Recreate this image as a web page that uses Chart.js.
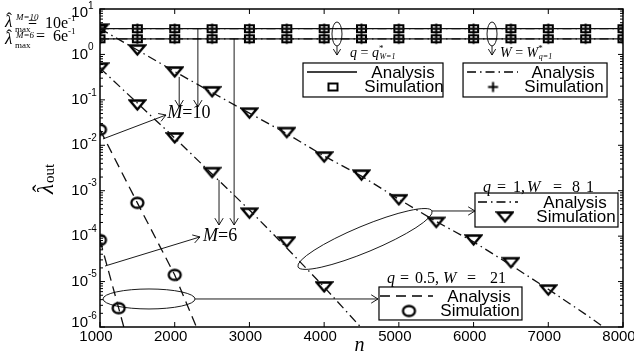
<!DOCTYPE html>
<html>
<head>
<meta charset="utf-8">
<script src="https://cdn.jsdelivr.net/npm/chart.js@4"></script>
<style>
  html, body { margin: 0; padding: 0; background: #fff; }
</style>
</head>
<body>
<canvas id="myChart" width="634" height="358"></canvas>
<script>
// n on the x axis, lambda_out on the (log) y axis
const nSim = [1000, 1500, 2000, 2500, 3000, 3500, 4000, 4500, 5000, 5500, 6000, 6500, 7000, 7500, 8000];
const maxM10Sim = [3.68, 3.68, 3.68, 3.68, 3.68, 3.68, 3.68, 3.68, 3.68, 3.68, 3.68, 3.68, 3.68, 3.68, 3.68];
const maxM6Sim = [2.21, 2.21, 2.21, 2.21, 2.21, 2.21, 2.21, 2.21, 2.21, 2.21, 2.21, 2.21, 2.21, 2.21, 2.21];
const nEnds = [1000, 8000];
const maxM10Ana = [3.68, 3.68];
const maxM6Ana = [2.21, 2.21];

// q = 1, W = 81
const nTriM10 = [1000, 1500, 2000, 2500, 3000, 3500, 4000, 4500, 5000, 5500, 6000, 6500, 7000];
const triSimM10 = [3.6, 1.25, 0.41, 0.15, 0.051, 0.019, 0.0055, 0.0022, 6.3e-4, 2.0e-4, 8.2e-5, 2.6e-5, 6.5e-6];
const nTriAnaM10 = [1000, 1500, 2000, 2500, 3000, 3500, 4000, 4500, 5000, 5500, 6000, 6500, 7000, 7500, 8000];
const triAnaM10 = [3.68, 1.25, 0.42, 0.145, 0.051, 0.018, 0.0058, 0.0021, 6.5e-4, 2.1e-4, 7.5e-5, 2.3e-5, 6.8e-6, 1.9e-6, 5e-7];
const nTriM6 = [1000, 1500, 2000, 2500, 3000, 3500, 4000];
const triSimM6 = [0.50, 0.077, 0.0145, 0.0025, 3.2e-4, 7.4e-5, 7.6e-6];
const nTriAnaM6 = [1000, 1500, 2000, 2500, 3000, 3500, 4000, 4500];
const triAnaM6 = [0.50, 0.085, 0.0145, 0.00233, 3.77e-4, 5.5e-5, 7.6e-6, 9.5e-7];

// q = 0.5, W = 21
const nCircM10 = [1000, 1500, 2000];
const circSimM10 = [0.022, 5.4e-4, 1.4e-5];
const nCircAnaM10 = [1000, 1500, 2000, 2500];
const circAnaM10 = [0.022, 5.4e-4, 1.4e-5, 1.5e-7];
const nCircM6 = [1000, 1250];
const circSimM6 = [8.2e-5, 2.6e-6];
const nCircAnaM6 = [1000, 1250, 1500];
const circAnaM6 = [8.2e-5, 2.6e-6, 8e-8];

const xTicks = [1000, 2000, 3000, 4000, 5000, 6000, 7000, 8000];
const yExponents = [-6, -5, -4, -3, -2, -1, 0, 1];

const serif = '"Liberation Serif", "Times New Roman", serif';
const sans = '"Liberation Sans", Arial, sans-serif';
const DASHDOT = [9, 4, 1.5, 4];
const DASHED = [10, 6];

function makeMarker(w, h, draw) {
    const c = document.createElement('canvas');
    c.width = w; c.height = h;
    const g = c.getContext('2d');
    g.strokeStyle = '#000';
    draw(g);
    return c;
}
const triMark = makeMarker(19, 14, g => {
    g.lineWidth = 2.4;
    g.beginPath(); g.moveTo(2, 2.5); g.lineTo(17, 2.5); g.lineTo(9.5, 11.5); g.closePath(); g.stroke();
});
const circMark = makeMarker(17, 15, g => {
    g.lineWidth = 2.3;
    g.beginPath(); g.ellipse(8.5, 7.5, 6, 5, 0, 0, Math.PI * 2); g.stroke();
});
const sqMark = makeMarker(13, 11, g => {
    g.lineWidth = 2;
    g.strokeRect(2, 2, 9, 7);
});
const plusMark = makeMarker(13, 13, g => {
    g.lineWidth = 2;
    g.beginPath(); g.moveTo(6.5, 1.5); g.lineTo(6.5, 11.5); g.moveTo(1.5, 6.5); g.lineTo(11.5, 6.5); g.stroke();
});

const pts = (xs, ys) => xs.map((x, i) => ({ x: x, y: ys[i] }));
const lineSet = (xs, ys, dash) => ({
    data: pts(xs, ys), borderColor: '#111', borderWidth: 1.3, borderDash: dash,
    pointRadius: 0, pointHoverRadius: 0, fill: false, tension: 0, clip: 0
});
const simSet = (xs, ys, mark) => ({
    data: pts(xs, ys), showLine: false, pointStyle: mark, pointRadius: 6,
    pointHoverRadius: 6, borderColor: '#000', backgroundColor: 'transparent'
});

function arrow(ctx, p1, p2, head) {
    head = head || 8;
    const a = Math.atan2(p2[1] - p1[1], p2[0] - p1[0]);
    ctx.beginPath();
    ctx.moveTo(p1[0], p1[1]); ctx.lineTo(p2[0], p2[1]);
    ctx.moveTo(p2[0] - head * Math.cos(a - 0.55), p2[1] - head * Math.sin(a - 0.55));
    ctx.lineTo(p2[0], p2[1]);
    ctx.lineTo(p2[0] - head * Math.cos(a + 0.55), p2[1] - head * Math.sin(a + 0.55));
    ctx.stroke();
}

function ellipseBetween(ctx, p1, p2, minor) {
    const cx = (p1[0] + p2[0]) / 2, cy = (p1[1] + p2[1]) / 2;
    const rx = Math.hypot(p2[0] - p1[0], p2[1] - p1[1]) / 2;
    ctx.beginPath();
    ctx.ellipse(cx, cy, rx, minor, Math.atan2(p2[1] - p1[1], p2[0] - p1[0]), 0, Math.PI * 2);
    ctx.stroke();
}

// parts: [text, font, dy, extra gap]
function runs(ctx, x, y, parts, draw) {
    let cx = x;
    parts.forEach(p => {
        ctx.font = p[1];
        if (draw !== false) ctx.fillText(p[0], cx, y + (p[2] || 0));
        cx += ctx.measureText(p[0]).width + (p[3] || 0);
    });
    return cx - x;
}

// pieces placed at fixed offsets: [text, font, dx]
function placed(ctx, x, y, parts) {
    parts.forEach(p => { ctx.font = p[1]; ctx.fillText(p[0], x + p[2], y); });
}

// lambda with a hat, left aligned at x, returns its width
function lamHat(ctx, x, base, size) {
    ctx.font = 'italic ' + size + 'px ' + serif;
    const w = ctx.measureText('λ').width;
    ctx.textAlign = 'left';
    ctx.fillText('λ', x, base);
    ctx.textAlign = 'center';
    ctx.font = size + 'px ' + serif;
    ctx.fillText('ˆ', x + w * 0.55, base - size * 0.18);
    ctx.textAlign = 'left';
    return w;
}

function legendBox(ctx, x, y, w, h, dash, mark, lineL, lineR) {
    ctx.save();
    ctx.fillStyle = '#fff';
    ctx.fillRect(x, y, w, h);
    ctx.strokeStyle = '#000';
    ctx.lineWidth = 1.2;
    ctx.strokeRect(x, y, w, h);
    ctx.lineWidth = 1.3;
    ctx.setLineDash(dash);
    ctx.beginPath(); ctx.moveTo(x + lineL, y + 9); ctx.lineTo(x + lineR, y + 9); ctx.stroke();
    ctx.setLineDash([]);
    ctx.drawImage(mark, x + 30 - mark.width / 2, y + 24 - mark.height / 2);
    ctx.fillStyle = '#000';
    ctx.font = '17px ' + sans;
    ctx.textAlign = 'center';
    ctx.textBaseline = 'middle';
    ctx.fillText('Analysis', x + 100, y + 10);
    ctx.fillText('Simulation', x + 101, y + 24);
    ctx.restore();
}

const decor = {
    id: 'decor',
    afterDatasetsDraw(chart) {
        const ctx = chart.ctx;
        const xs = chart.scales.x, ys = chart.scales.y, a = chart.chartArea;
        const P = (n, v) => [xs.getPixelForValue(n), ys.getPixelForValue(v)];
        ctx.save();
        ctx.strokeStyle = '#000';
        ctx.fillStyle = '#000';

        // frame and ticks
        ctx.lineWidth = 1.5;
        ctx.strokeRect(a.left, a.top, a.right - a.left, a.bottom - a.top);
        ctx.lineWidth = 1;
        ctx.beginPath();
        xTicks.forEach(v => {
            const x = xs.getPixelForValue(v);
            ctx.moveTo(x, a.bottom); ctx.lineTo(x, a.bottom - 5);
            ctx.moveTo(x, a.top); ctx.lineTo(x, a.top + 5);
        });
        yExponents.forEach(e => {
            const y = ys.getPixelForValue(Math.pow(10, e));
            ctx.moveTo(a.left, y); ctx.lineTo(a.left + 5, y);
            ctx.moveTo(a.right, y); ctx.lineTo(a.right - 5, y);
            if (e < 1) {
                for (let k = 2; k <= 9; k++) {
                    const ym = ys.getPixelForValue(k * Math.pow(10, e));
                    ctx.moveTo(a.left, ym); ctx.lineTo(a.left + 3, ym);
                    ctx.moveTo(a.right, ym); ctx.lineTo(a.right - 3, ym);
                }
            }
        });
        ctx.stroke();

        // tick labels
        ctx.font = '15px ' + sans;
        ctx.textAlign = 'center';
        ctx.textBaseline = 'top';
        xTicks.forEach(v => ctx.fillText(String(v), xs.getPixelForValue(v) - 4, a.bottom + 2));
        ctx.textBaseline = 'middle';
        yExponents.forEach(e => {
            let y = ys.getPixelForValue(Math.pow(10, e));
            y = Math.min(Math.max(y, a.top + 4), a.bottom - 4);
            ctx.textAlign = 'right';
            ctx.font = '15px ' + sans;
            ctx.fillText('10', a.left - 12, y);
            ctx.textAlign = 'left';
            ctx.font = '10px ' + sans;
            ctx.fillText(String(e), a.left - 12, y - 7);
        });

        // axis titles
        ctx.textAlign = 'center';
        ctx.textBaseline = 'alphabetic';
        ctx.font = 'italic 20px ' + serif;
        ctx.fillText('n', (a.left + a.right) / 2 - 2, 351);
        ctx.save();
        ctx.translate(46, 179);
        ctx.rotate(-Math.PI / 2);
        const lw = lamHat(ctx, -15, 7, 23);
        ctx.font = '15px ' + serif;
        ctx.fillText('out', -15 + lw + 1, 8);
        ctx.restore();

        // lambda_max labels on the left: [sup, value, lambda base, sup base, sub base, text base]
        ctx.textBaseline = 'alphabetic';
        [['M=10', '10e', 27, 20, 32, 28], ['M=6', '6e', 44, 38, 48, 41]].forEach(r => {
            lamHat(ctx, 5, r[2], 17);
            ctx.font = 'italic 9px ' + serif;
            ctx.fillText(r[0], 16, r[3]);
            ctx.font = '9px ' + serif;
            ctx.fillText('max', 15, r[4]);
            ctx.textAlign = 'right';
            ctx.font = '16px ' + serif;
            ctx.fillText('=  ' + r[1], 68, r[5]);
            ctx.textAlign = 'left';
            ctx.font = '9px ' + serif;
            ctx.fillText('-1', 68, r[5] - 7);
        });

        // M labels with arrows
        ctx.lineWidth = 0.9;
        arrow(ctx, P(2310, 3.68), P(2310, 0.07));
        arrow(ctx, P(2060, 0.32), P(2060, 0.07));
        arrow(ctx, P(2795, 2.21), P(2795, 1.76e-4));
        arrow(ctx, P(2593, 1.72e-3), P(2593, 1.76e-4));
        arrow(ctx, P(1040, 0.0138), P(1883, 0.0464));
        arrow(ctx, P(1067, 2.2e-5), P(2338, 9.6e-5));
        ctx.textBaseline = 'middle';
        let p = P(1900, 0.0514);
        runs(ctx, p[0], p[1], [['M', 'italic 18px ' + serif], ['=10', '18px ' + serif]]);
        p = P(2380, 1.0e-4);
        runs(ctx, p[0], p[1], [['M', 'italic 18px ' + serif], ['=6', '18px ' + serif]]);

        // ellipses and their arrows
        ellipseBetween(ctx, P(3650, 2.1e-5), P(5444, 3.58e-4), 13);
        arrow(ctx, P(5444, 3.58e-4), P(6019, 3.58e-4));
        ellipseBetween(ctx, P(1040, 4.14e-6), P(2272, 4.14e-6), 10);
        arrow(ctx, P(2272, 4.14e-6), P(4721, 4.14e-6));
        [4172, 6247].forEach(n => {
            const c = P(n, 2.82);
            ctx.beginPath(); ctx.ellipse(c[0], c[1], 5, 12, 0, 0, Math.PI * 2); ctx.stroke();
            arrow(ctx, P(n, 1.53), P(n, 0.97), 7);
        });
        ctx.textBaseline = 'alphabetic';
        p = P(4346, 1.0);
        runs(ctx, p[0], p[1] + 3, [['q', 'italic 14px ' + serif], [' = ', '14px ' + serif], ['q', 'italic 14px ' + serif],
            ['*', '9px ' + serif, -6, -4], ['W=1', 'italic 8px ' + serif, 2]]);
        p = P(6354, 1.0);
        runs(ctx, p[0], p[1] + 3, [['W', 'italic 14px ' + serif], [' = ', '14px ' + serif], ['W', 'italic 14px ' + serif],
            ['*', '9px ' + serif, -6, -4], ['q=1', 'italic 8px ' + serif, 2]]);

        // legends
        const it = 'italic 16px ' + serif, rm = '16px ' + serif;
        p = P(3717, 0.648);
        legendBox(ctx, p[0], p[1], 140, 34, [], sqMark, 4, 54);
        p = P(5859, 0.648);
        legendBox(ctx, p[0], p[1], 144, 34, DASHDOT, plusMark, 4, 55);
        p = P(6019, 8.9e-4);
        legendBox(ctx, p[0], p[1], 143, 34, DASHDOT, triMark, 3, 43);
        ctx.textBaseline = 'alphabetic';
        ctx.textAlign = 'left';
        placed(ctx, p[0] + 8, p[1] - 1, [['q', it, 0], ['=', rm, 14], ['1,', rm, 30], ['W', it, 44], ['=', rm, 70], ['8', rm, 89], ['1', rm, 103]]);
        p = P(4734, 7.6e-6);
        legendBox(ctx, p[0], p[1], 143, 33, DASHED, circMark, 1, 54);
        ctx.textBaseline = 'alphabetic';
        ctx.textAlign = 'left';
        placed(ctx, p[0] + 8, p[1] - 4, [['q', it, 0], ['=', rm, 13], ['0.5,', rm, 28], ['W', it, 56], ['=', rm, 80], ['21', rm, 103]]);
        ctx.restore();
    }
};

const ctx = document.getElementById('myChart').getContext('2d');
new Chart(ctx, {
    type: 'line',
    data: {
        datasets: [
            lineSet(nEnds, maxM10Ana, DASHDOT),
            lineSet(nEnds, maxM6Ana, DASHDOT),
            lineSet(nEnds, maxM10Ana, []),
            lineSet(nEnds, maxM6Ana, []),
            simSet(nSim, maxM10Sim, sqMark),
            simSet(nSim, maxM10Sim, plusMark),
            simSet(nSim, maxM6Sim, sqMark),
            simSet(nSim, maxM6Sim, plusMark),
            lineSet(nTriAnaM10, triAnaM10, DASHDOT),
            simSet(nTriM10, triSimM10, triMark),
            lineSet(nTriAnaM6, triAnaM6, DASHDOT),
            simSet(nTriM6, triSimM6, triMark),
            lineSet(nCircAnaM10, circAnaM10, DASHED),
            simSet(nCircM10, circSimM10, circMark),
            lineSet(nCircAnaM6, circAnaM6, DASHED),
            simSet(nCircM6, circSimM6, circMark)
        ]
    },
    options: {
        responsive: false,
        animation: false,
        devicePixelRatio: 1,
        layout: { padding: { left: 100, right: 11, top: 9, bottom: 31 } },
        plugins: { legend: { display: false }, tooltip: { enabled: false } },
        scales: {
            x: { type: 'linear', min: 1000, max: 8000, display: false },
            y: { type: 'logarithmic', min: 1e-6, max: 10, display: false }
        }
    },
    plugins: [decor]
});
</script>
</body>
</html>
